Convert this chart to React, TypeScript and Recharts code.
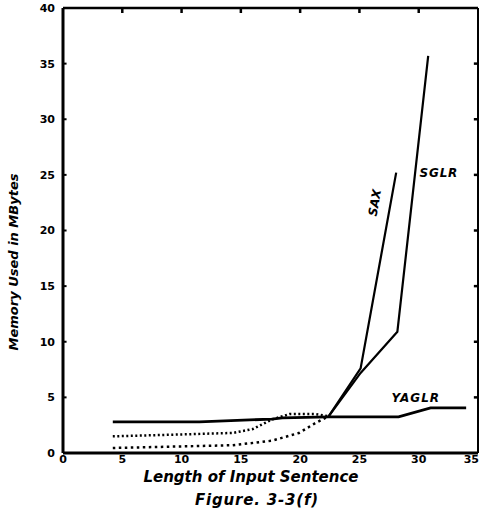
import React from 'react';
import { LineChart, Line, XAxis, YAxis, ReferenceDot, ReferenceLine, Label } from 'recharts';

// values (length of sentence -> MBytes)
const saxDottedLength = [4.2, 14.3, 16, 17.6, 19.1, 21.3, 22.4];
const saxDottedMemory = [1.5, 1.8, 2.15, 3.0, 3.5, 3.5, 3.3];
const saxSolidLength = [22.4, 25.1, 28.1];
const saxSolidMemory = [3.3, 7.6, 25.2];

const sglrDottedLength = [4.2, 14.3, 17.6, 19.9, 21.3, 22.4];
const sglrDottedMemory = [0.45, 0.7, 1.1, 1.8, 2.7, 3.3];
const sglrSolidLength = [22.4, 25.1, 28.2, 30.8];
const sglrSolidMemory = [3.3, 7.2, 10.9, 35.7];

const yaglrLength = [4.2, 11.5, 17.6, 18.5, 22.4, 28.3, 31, 34];
const yaglrMemory = [2.8, 2.8, 3.05, 3.15, 3.25, 3.25, 4.05, 4.05];

const xTicks = [0, 5, 10, 15, 20, 25, 30, 35];
const yTicks = [0, 5, 10, 15, 20, 25, 30, 35, 40];

const toPoints = (xs: number[], ys: number[]) => xs.map((len, i) => ({ len, mem: ys[i] }));

const font = { fontFamily: '"DejaVu Sans", sans-serif', fontWeight: 700, fontStyle: 'italic' as const, fill: '#000' };
const tickFont = { fontFamily: '"DejaVu Sans", sans-serif', fontWeight: 700, fontSize: 11, fill: '#000' };

// last x label sits on the page edge, so anchor it to the end
const XTick = ({ x, y, payload, index }: any) => {
  const last = index === xTicks.length - 1;
  return (
    <text x={last ? x + 5 : x} y={y} dy={9} textAnchor={last ? 'end' : 'middle'} {...tickFont}>
      {payload.value}
    </text>
  );
};

// inner tick marks of the frame (top, right, left), in data units
const innerX = xTicks.slice(1, -1);
const innerY = yTicks.slice(1, -1);

const App: React.FC = () => {
  return (
    <div style={{ position: 'absolute', left: 0, top: 0, width: 482, height: 514, background: '#fff' }}>
      <LineChart width={482} height={514} data={toPoints(yaglrLength, yaglrMemory)} margin={{ top: 8, right: 4, left: 0, bottom: 0 }}>
        <XAxis
          dataKey="len"
          type="number"
          domain={[0, 35]}
          ticks={xTicks}
          allowDataOverflow
          height={61}
          tickLine={false}
          tickSize={0}
          tickMargin={1}
          tick={<XTick />}
          axisLine={{ stroke: '#000', strokeWidth: 3 }}
        >
          <Label
            content={({ viewBox }: any) => (
              <g>
                <text x={251} y={viewBox.y + 29} textAnchor="middle" fontSize={15} {...font}>
                  Length of Input Sentence
                </text>
                <text x={257} y={viewBox.y + 52} textAnchor="middle" fontSize={15} letterSpacing={0.8} {...font}>
                  Figure. 3-3(f)
                </text>
              </g>
            )}
          />
        </XAxis>
        <XAxis
          xAxisId="top"
          dataKey="len"
          type="number"
          orientation="top"
          mirror
          height={1}
          domain={[0, 35]}
          allowDataOverflow
          ticks={xTicks}
          tick={false}
          tickLine={false}
          axisLine={{ stroke: '#000', strokeWidth: 2.5 }}
        />
        <YAxis
          type="number"
          domain={[0, 40]}
          ticks={yTicks}
          allowDataOverflow
          width={63}
          tickLine={false}
          tickSize={0}
          tickMargin={8}
          tick={tickFont}
          axisLine={{ stroke: '#000', strokeWidth: 3 }}
        >
          <Label
            content={() => (
              <text x={18} y={262} textAnchor="middle" fontSize={13} transform="rotate(-90 18 262)" {...font}>
                Memory Used in MBytes
              </text>
            )}
          />
        </YAxis>
        <YAxis
          yAxisId="right"
          type="number"
          orientation="right"
          mirror
          width={1}
          domain={[0, 40]}
          allowDataOverflow
          ticks={yTicks}
          tick={false}
          tickLine={false}
          axisLine={{ stroke: '#000', strokeWidth: 2 }}
        />

        {innerX.map((t) => (
          <ReferenceLine key={`tx${t}`} segment={[{ x: t, y: 40 }, { x: t, y: 39.55 }]} stroke="#000" strokeWidth={2.5} ifOverflow="visible" />
        ))}
        {innerY.map((t) => (
          <ReferenceLine key={`ry${t}`} segment={[{ x: 35, y: t }, { x: 34.65, y: t }]} stroke="#000" strokeWidth={2.5} ifOverflow="visible" />
        ))}
        {innerY.map((t) => (
          <ReferenceLine key={`ly${t}`} segment={[{ x: 0, y: t }, { x: 0.3, y: t }]} stroke="#000" strokeWidth={2} ifOverflow="visible" />
        ))}

        <Line dataKey="mem" type="linear" stroke="#000" strokeWidth={2.8} dot={false} isAnimationActive={false} />
        <Line xAxisId="top" yAxisId="right" dataKey="mem" type="linear" stroke="none" strokeWidth={0} dot={false} isAnimationActive={false} />
        <Line data={toPoints(saxDottedLength, saxDottedMemory)} dataKey="mem" type="linear" stroke="#000" strokeWidth={2.5} strokeDasharray="2 2.5" dot={false} isAnimationActive={false} />
        <Line data={toPoints(sglrDottedLength, sglrDottedMemory)} dataKey="mem" type="linear" stroke="#000" strokeWidth={2.5} strokeDasharray="2.5 3.5" dot={false} isAnimationActive={false} />
        <Line data={toPoints(saxSolidLength, saxSolidMemory)} dataKey="mem" type="linear" stroke="#000" strokeWidth={2.2} dot={false} isAnimationActive={false} />
        <Line data={toPoints(sglrSolidLength, sglrSolidMemory)} dataKey="mem" type="linear" stroke="#000" strokeWidth={2.2} dot={false} isAnimationActive={false} />

        <ReferenceDot
          x={26.3}
          y={22.5}
          r={0}
          ifOverflow="visible"
          label={{
            content: ({ viewBox }: any) => (
              <text x={viewBox.x} y={viewBox.y} textAnchor="middle" dominantBaseline="central" fontSize={12}
                transform={`rotate(-80 ${viewBox.x} ${viewBox.y})`} {...font}>
                SAX
              </text>
            ),
          }}
        />
        <ReferenceDot
          x={31.7}
          y={25.2}
          r={0}
          ifOverflow="visible"
          label={{
            content: ({ viewBox }: any) => (
              <text x={viewBox.x} y={viewBox.y} textAnchor="middle" dominantBaseline="central" fontSize={12} letterSpacing={0.8} {...font}>
                SGLR
              </text>
            ),
          }}
        />
        <ReferenceDot
          x={29.75}
          y={4.95}
          r={0}
          ifOverflow="visible"
          label={{
            content: ({ viewBox }: any) => (
              <text x={viewBox.x} y={viewBox.y} textAnchor="middle" dominantBaseline="central" fontSize={12} letterSpacing={1} {...font}>
                YAGLR
              </text>
            ),
          }}
        />
      </LineChart>
    </div>
  );
};

export default App;
